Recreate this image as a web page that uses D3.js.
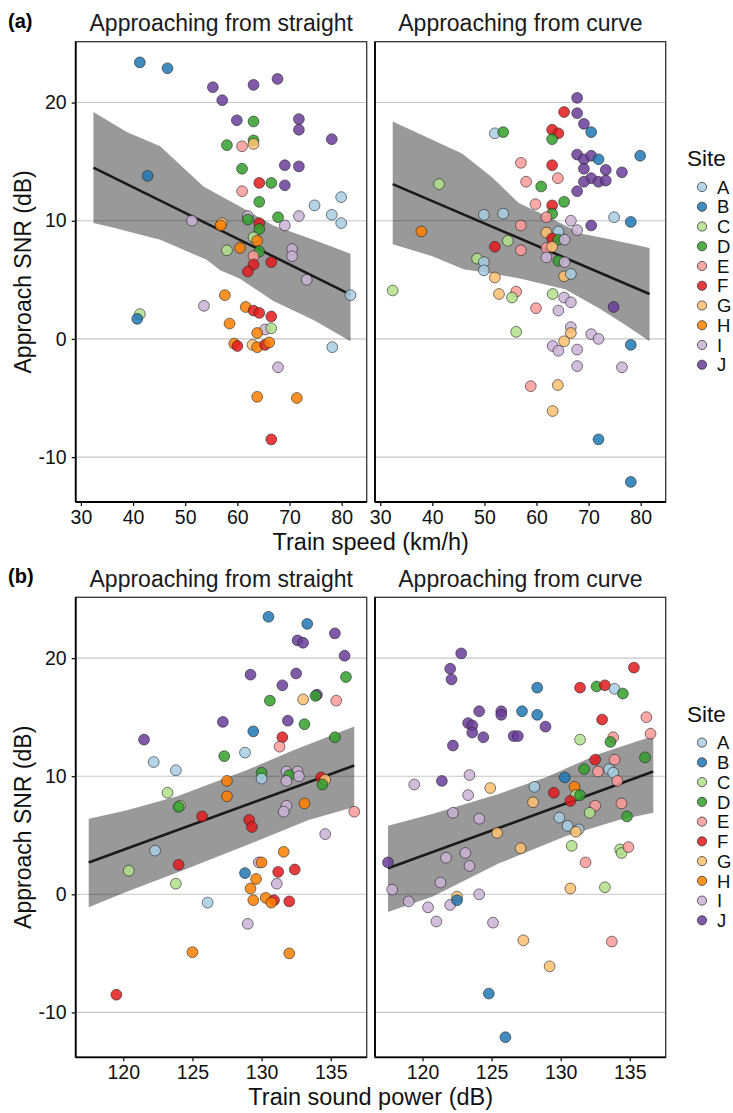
<!DOCTYPE html>
<html><head><meta charset="utf-8">
<script src="https://cdnjs.cloudflare.com/ajax/libs/d3/7.8.5/d3.min.js"></script>
<style>body{margin:0;background:#fff}svg{display:block;font-family:"Liberation Sans",Arial,sans-serif}</style>
</head><body>
<svg id="c" width="733" height="1113"></svg>
<script>
// ---------- data ----------
const sites = ["A","B","C","D","E","F","G","H","I","J"];
const siteColors = ["#A6CEE3","#1F78B4","#B2DF8A","#33A02C","#FB9A99","#E31A1C","#FDBF6F","#FF7F00","#CAB2D6","#6A3D9A"];
const facetTitles = ["Approaching from straight","Approaching from curve"];
const yTicks = [-10,0,10,20];
const speedTicks = [30,40,50,60,70,80];
const powerTicks = [120,125,130,135];

// [speed km/h, SNR dB, site]  — approaching from straight
const speedStraight = [
[41.3,23.4,"B"],[46.6,22.9,"B"],[55.3,21.3,"J"],[63.1,21.5,"J"],[67.7,22.0,"J"],[57.1,20.2,"J"],[59.9,18.5,"J"],
[63.1,18.4,"D"],[71.8,18.6,"J"],[71.8,17.7,"J"],[78.1,16.9,"J"],[63.1,16.8,"D"],[63.1,16.5,"G"],[58.0,16.4,"D"],
[60.9,16.3,"E"],[60.9,14.4,"D"],[69.1,14.7,"J"],[71.8,14.6,"J"],[42.8,13.8,"B"],[64.2,13.2,"F"],[66.5,13.2,"D"],
[69.1,13.0,"J"],[60.9,12.5,"E"],[64.2,11.6,"D"],[79.9,12.0,"A"],[74.8,11.3,"A"],[78.1,10.5,"A"],[79.9,9.8,"A"],
[51.3,10.0,"I"],[62.0,10.4,"I"],[62.0,10.1,"D"],[67.8,10.3,"D"],[71.8,10.4,"I"],[64.2,9.8,"F"],[69.1,9.6,"I"],
[64.2,9.3,"D"],[57.0,9.8,"G"],[56.8,9.6,"H"],[63.1,8.6,"C"],[63.8,8.3,"H"],[58.0,7.5,"C"],[60.5,7.7,"H"],
[64.2,7.4,"D"],[70.5,7.6,"I"],[70.5,7.0,"I"],[63.1,7.0,"E"],[66.5,6.5,"F"],[63.1,6.3,"F"],[62.0,5.7,"F"],
[73.3,5.0,"I"],[81.7,3.7,"A"],[57.6,3.7,"H"],[53.6,2.8,"I"],[41.3,2.1,"C"],[40.8,1.7,"B"],[61.6,2.7,"H"],
[63.1,2.4,"F"],[64.2,2.2,"F"],[66.5,1.9,"F"],[58.5,1.3,"H"],[65.3,0.8,"I"],[66.5,0.9,"C"],[63.8,0.5,"H"],
[59.4,-0.4,"H"],[60.0,-0.6,"F"],[62.9,-0.5,"G"],[63.8,-0.7,"H"],[65.3,-0.5,"F"],[66.1,-0.3,"H"],[78.2,-0.7,"A"],
[67.8,-2.4,"I"],[63.8,-4.9,"H"],[71.4,-5.0,"H"],[66.5,-8.5,"F"]
];
// approaching from curve
const speedCurve = [
[67.8,20.4,"J"],[65.3,19.2,"F"],[67.8,19.1,"J"],[69.1,18.2,"J"],[70.5,17.5,"B"],[52.0,17.4,"A"],[53.6,17.5,"D"],
[63.0,17.7,"F"],[64.2,17.4,"F"],[63.0,16.9,"D"],[79.9,15.5,"B"],[67.8,15.6,"J"],[69.1,15.2,"J"],[70.5,15.5,"J"],
[71.9,15.2,"B"],[57.0,14.9,"E"],[63.0,14.7,"F"],[69.1,14.4,"J"],[73.3,14.3,"J"],[76.4,14.1,"J"],[58.0,13.3,"E"],
[64.1,13.6,"E"],[70.5,13.6,"J"],[69.1,13.3,"J"],[71.9,13.3,"J"],[73.3,13.4,"J"],[60.9,12.9,"D"],[41.3,13.1,"C"],
[67.8,12.5,"J"],[59.8,11.4,"E"],[63.0,11.3,"F"],[65.3,11.6,"D"],[63.0,10.6,"D"],[61.9,10.3,"E"],[49.9,10.5,"A"],
[53.6,10.6,"A"],[74.9,10.3,"A"],[78.1,9.9,"B"],[70.5,9.6,"J"],[66.6,10.0,"I"],[67.8,9.2,"I"],[37.9,9.1,"H"],
[57.0,9.6,"E"],[61.9,9.0,"G"],[64.2,9.1,"A"],[63.0,8.5,"F"],[64.2,8.4,"D"],[65.4,8.4,"I"],[54.5,8.3,"C"],
[52.0,7.8,"F"],[57.0,7.5,"E"],[61.9,7.7,"E"],[63.0,7.8,"G"],[61.9,6.9,"I"],[48.6,6.8,"C"],[49.9,6.5,"A"],
[64.2,6.6,"D"],[65.4,6.5,"I"],[49.9,5.8,"A"],[52.0,5.2,"G"],[65.3,5.3,"G"],[66.6,5.5,"A"],[32.4,4.1,"C"],
[52.8,3.8,"G"],[56.1,4.0,"E"],[55.3,3.5,"C"],[63.1,3.8,"C"],[65.3,3.5,"I"],[66.6,3.1,"I"],[59.9,2.6,"E"],
[64.2,2.4,"I"],[74.8,2.7,"J"],[56.1,0.6,"C"],[66.6,1.0,"I"],[66.6,0.5,"G"],[70.5,0.4,"I"],[71.9,0.0,"I"],
[65.3,-0.2,"G"],[78.1,-0.5,"B"],[63.1,-0.6,"I"],[64.2,-1.0,"I"],[67.8,-0.9,"I"],[67.8,-2.3,"I"],[76.4,-2.4,"I"],
[58.9,-4.0,"E"],[64.1,-3.9,"G"],[63.1,-6.1,"G"],[71.9,-8.5,"B"],[78.1,-12.1,"B"]
];
// [train sound power dB, SNR dB, site]
const powerStraight = [
[130.5,23.5,"B"],[133.3,22.9,"B"],[135.3,22.1,"J"],[132.6,21.5,"J"],[133.0,21.3,"J"],[136.0,20.2,"J"],[129.2,18.6,"J"],
[132.5,18.7,"J"],[136.1,18.4,"D"],[131.5,17.7,"J"],[130.6,16.4,"D"],[133.0,16.5,"G"],[134.0,16.9,"J"],[133.9,16.8,"D"],
[135.4,16.4,"E"],[127.2,14.6,"J"],[131.9,14.7,"J"],[133.1,14.4,"D"],[129.4,13.8,"B"],[131.5,13.3,"F"],[135.3,13.3,"D"],
[131.3,12.5,"E"],[121.5,13.1,"J"],[122.2,11.2,"A"],[128.8,12.0,"A"],[127.3,11.7,"D"],[123.8,10.5,"A"],[130.0,10.3,"D"],
[130.0,9.8,"A"],[131.8,10.4,"I"],[132.6,10.4,"I"],[132.0,10.1,"D"],[132.7,10.0,"I"],[131.8,9.6,"I"],[134.3,9.9,"F"],
[134.6,9.7,"G"],[134.4,9.3,"D"],[127.5,9.6,"H"],[127.5,8.3,"H"],[123.2,8.6,"C"],[124.1,7.5,"C"],[124.0,7.4,"D"],
[133.1,7.7,"H"],[131.8,7.5,"I"],[131.6,7.0,"I"],[136.7,7.0,"E"],[125.7,6.6,"F"],[129.1,6.3,"F"],[129.3,5.7,"F"],
[134.6,5.1,"I"],[122.3,3.7,"A"],[131.6,3.6,"H"],[120.4,2.0,"C"],[124.0,2.5,"F"],[129.8,2.7,"I"],[130.0,2.7,"H"],
[128.8,1.8,"B"],[131.2,1.9,"F"],[132.4,2.1,"F"],[129.6,1.3,"H"],[131.1,0.9,"I"],[123.8,0.9,"C"],[129.2,0.5,"H"],
[126.1,-0.7,"A"],[129.4,-0.5,"H"],[130.3,-0.3,"H"],[130.9,-0.5,"F"],[130.7,-0.7,"H"],[132.0,-0.6,"F"],[129.0,-2.5,"I"],
[125.0,-4.9,"H"],[132.0,-5.0,"H"],[119.5,-8.5,"F"]
];
const powerCurve = [
[122.8,20.4,"J"],[135.3,19.2,"F"],[122.0,19.1,"J"],[122.1,18.2,"J"],[128.3,17.5,"B"],[131.4,17.5,"F"],[132.6,17.6,"D"],
[133.2,17.7,"F"],[133.9,17.4,"A"],[134.5,17.0,"D"],[124.1,15.5,"J"],[125.7,15.5,"J"],[125.7,15.2,"J"],[127.2,15.5,"B"],
[128.3,15.2,"B"],[133.0,14.8,"F"],[136.2,15.0,"E"],[123.3,14.5,"J"],[123.6,14.3,"J"],[128.9,14.2,"J"],[123.6,13.7,"J"],
[124.4,13.3,"J"],[126.6,13.4,"J"],[126.9,13.4,"J"],[136.5,13.6,"E"],[133.8,13.3,"E"],[131.4,13.1,"C"],[133.6,12.9,"D"],
[122.2,12.6,"J"],[136.1,11.6,"D"],[132.5,11.4,"F"],[133.9,11.4,"E"],[131.7,10.6,"D"],[132.7,10.4,"E"],[133.5,10.6,"A"],
[133.8,10.3,"A"],[130.3,9.9,"B"],[134.1,9.6,"E"],[119.4,9.3,"I"],[121.4,9.6,"J"],[123.4,10.1,"I"],[124.9,9.0,"G"],
[123.3,8.4,"I"],[128.1,9.1,"A"],[131.0,9.1,"H"],[129.5,8.6,"F"],[131.1,8.4,"C"],[131.4,8.4,"D"],[130.7,7.9,"F"],
[128.0,7.8,"G"],[132.5,7.5,"E"],[134.4,7.7,"E"],[132.1,6.9,"C"],[134.8,6.6,"D"],[122.2,6.9,"I"],[124.1,6.4,"I"],
[129.9,6.5,"A"],[130.5,5.8,"A"],[131.3,5.5,"A"],[131.1,5.3,"G"],[125.4,5.2,"G"],[127.1,3.9,"G"],[121.7,3.1,"I"],
[123.1,3.5,"I"],[123.4,2.4,"I"],[117.5,2.7,"J"],[130.8,4.1,"C"],[131.8,2.7,"E"],[134.3,3.8,"C"],[134.4,3.5,"C"],
[134.9,4.0,"E"],[117.8,0.4,"I"],[121.3,1.0,"I"],[130.7,0.5,"G"],[133.2,0.6,"C"],[119.0,-0.6,"I"],[120.4,-1.1,"I"],
[122.0,-0.9,"I"],[122.5,-0.2,"G"],[122.5,-0.5,"B"],[124.1,0.0,"I"],[121.0,-2.3,"I"],[125.1,-2.4,"I"],[127.3,-3.9,"G"],
[133.7,-4.0,"E"],[129.2,-6.1,"G"],[124.8,-8.4,"B"],[126.0,-12.1,"B"]
];

// fitted lines [x, SNR] at the ends
const fitSpeedStraight = [[32.4,14.5],[81.7,3.75]];
const fitSpeedCurve    = [[32.4,13.1],[81.7,3.8]];
const fitPowerStraight = [[117.5,2.7],[136.7,10.9]];
const fitPowerCurve    = [[117.5,2.2],[136.7,10.4]];

// confidence band edges [x, SNR]
const bandSpeedStraightHi = [[32.4,19.2],[38.8,17.5],[45.2,16.3],[53.5,12.9],[60.5,11.2],[66.9,9.6],[74.6,8.4],[81.7,7.2]];
const bandSpeedStraightLo = [[32.4,9.8],[36.3,9.4],[45.2,8.4],[54.1,6.7],[56.7,5.8],[60.5,5.1],[66.9,3.2],[74.6,1.6],[81.7,-0.2]];
const bandSpeedCurveHi = [[32.4,18.4],[45.7,15.7],[51.4,13.7],[56.6,11.5],[61.0,10.6],[68.7,8.9],[74.5,8.4],[81.7,7.7]];
const bandSpeedCurveLo = [[32.4,8.0],[40.0,7.0],[46.0,5.9],[52.0,5.5],[57.0,5.1],[65.5,4.2],[72.0,2.6],[77.0,1.2],[81.7,-0.2]];
const bandPowerStraightHi = [[117.5,6.4],[120.2,7.1],[123.9,8.3],[128.9,10.5],[132.3,12.2],[136.7,14.2]];
const bandPowerStraightLo = [[117.5,-1.1],[120.2,0.2],[124.0,1.9],[129.0,4.2],[133.4,6.3],[136.7,7.4]];
const bandPowerCurveHi = [[117.5,5.8],[120.7,6.8],[125.5,8.5],[128.9,9.9],[132.8,11.9],[136.7,13.4]];
const bandPowerCurveLo = [[117.5,-1.5],[120.7,-0.2],[125.5,2.6],[130.3,4.9],[134.2,6.3],[136.7,6.9]];

// ---------- drawing ----------
const svg = d3.select("#c");
const font = '"Liberation Sans",Arial,sans-serif';
const color = d3.scaleOrdinal().domain(sites).range(siteColors);
const facetX = [[75.7,366.7],[375,665.7]];

const panels = [
  {label:"(a)", top:41.7, bottom:502, xDomain:[29.0,84.8], xTicks:speedTicks, xTitle:"Train speed (km/h)",
   data:[speedStraight,speedCurve], fits:[fitSpeedStraight,fitSpeedCurve],
   bands:[[bandSpeedStraightHi,bandSpeedStraightLo],[bandSpeedCurveHi,bandSpeedCurveLo]]},
  {label:"(b)", top:597.3, bottom:1057.3, xDomain:[116.56,137.6], xTicks:powerTicks, xTitle:"Train sound power (dB)",
   data:[powerStraight,powerCurve], fits:[fitPowerStraight,fitPowerCurve],
   bands:[[bandPowerStraightHi,bandPowerStraightLo],[bandPowerCurveHi,bandPowerCurveLo]]}
];

panels.forEach((p,pi)=>{
  const y = d3.scaleLinear().domain([-13.8,25.15]).range([p.bottom,p.top]);
  const g = svg.append("g");
  // panel label
  g.append("text").attr("x",8).attr("y",p.top-14).attr("font-family",font).attr("font-weight","bold")
    .attr("font-size",20).text(p.label);

  facetX.forEach((fx,fi)=>{
    const x = d3.scaleLinear().domain(p.xDomain).range(fx);
    const f = g.append("g");
    const cid = "clip"+pi+fi;
    f.append("clipPath").attr("id",cid).append("rect")
      .attr("x",fx[0]).attr("y",p.top).attr("width",fx[1]-fx[0]).attr("height",p.bottom-p.top);
    // strip title
    f.append("text").attr("x",(fx[0]+fx[1])/2).attr("y",p.top-10.5).attr("text-anchor","middle")
      .attr("font-family",font).attr("font-size",23).attr("fill","#1a1a1a").text(facetTitles[fi]);
    // grid
    f.selectAll("line.grid").data(yTicks).join("line").attr("class","grid")
      .attr("x1",fx[0]).attr("x2",fx[1]).attr("y1",d=>y(d)).attr("y2",d=>y(d))
      .attr("stroke","#c6c6c6").attr("stroke-width",1.1);
    const plot = f.append("g").attr("clip-path",`url(#${cid})`);
    // band
    const [hi,lo] = p.bands[fi];
    const poly = hi.concat(lo.slice().reverse());
    plot.append("path").datum(poly)
      .attr("d", d3.line().x(d=>x(d[0])).y(d=>y(d[1])).curve(d3.curveLinearClosed))
      .attr("fill","#000").attr("fill-opacity",0.4);
    // fit line
    plot.append("path").datum(p.fits[fi])
      .attr("d", d3.line().x(d=>x(d[0])).y(d=>y(d[1])))
      .attr("stroke","#1a1a1a").attr("stroke-width",2.6).attr("fill","none");
    // points
    plot.selectAll("circle").data(p.data[fi]).join("circle")
      .attr("cx",d=>x(d[0])).attr("cy",d=>y(d[1])).attr("r",5.4)
      .attr("fill",d=>color(d[2])).attr("fill-opacity",0.85)
      .attr("stroke","#222").attr("stroke-width",0.7).attr("stroke-opacity",0.85);
    // border
    f.append("rect").attr("x",fx[0]).attr("y",p.top).attr("width",fx[1]-fx[0]).attr("height",p.bottom-p.top)
      .attr("fill","none").attr("stroke","#333").attr("stroke-width",1.3);
    // axis lines
    f.append("line").attr("x1",fx[0]).attr("x2",fx[1]).attr("y1",p.bottom).attr("y2",p.bottom)
      .attr("stroke","#000").attr("stroke-width",1.8);
    f.append("line").attr("x1",fx[0]).attr("x2",fx[0]).attr("y1",p.top).attr("y2",p.bottom)
      .attr("stroke","#000").attr("stroke-width",1.8);
    // x axis
    const xa = f.append("g").attr("transform",`translate(0,${p.bottom})`)
      .call(d3.axisBottom(x).tickValues(p.xTicks).tickSize(4).tickPadding(4).tickFormat(d3.format("d")));
    xa.select(".domain").remove();
    xa.selectAll("line").attr("stroke","#000").attr("stroke-width",1.2);
    xa.selectAll("text").attr("font-family",font).attr("font-size",19.5).attr("fill","#111");
    if(fi===0){
      const ya = f.append("g").attr("transform",`translate(${fx[0]},0)`)
        .call(d3.axisLeft(y).tickValues(yTicks).tickSize(4).tickPadding(5).tickFormat(d=>String(d)));
      ya.select(".domain").remove();
      ya.selectAll("line").attr("stroke","#000").attr("stroke-width",1.2);
      ya.selectAll("text").attr("font-family",font).attr("font-size",19.5).attr("fill","#111");
    }
  });
  // axis titles
  g.append("text").attr("x",(facetX[0][0]+facetX[1][1])/2).attr("y",p.bottom+48).attr("text-anchor","middle")
    .attr("font-family",font).attr("font-size",23.5).attr("fill","#111").text(p.xTitle);
  g.append("text").attr("transform",`translate(31,${(p.top+p.bottom)/2}) rotate(-90)`).attr("text-anchor","middle")
    .attr("font-family",font).attr("font-size",23).attr("fill","#111").text("Approach SNR (dB)");
  // legend
  const ly0 = p.top + 145.3;
  const lg = g.append("g");
  lg.append("text").attr("x",687).attr("y",p.top+124.5).attr("font-family",font).attr("font-size",22.5)
    .attr("fill","#111").text("Site");
  const ls = d3.scalePoint().domain(sites).range([ly0, ly0+9*19.75]);
  sites.forEach(s=>{
    lg.append("circle").attr("cx",702).attr("cy",ls(s)).attr("r",4.6).attr("fill",color(s)).attr("fill-opacity",0.85)
      .attr("stroke","#222").attr("stroke-width",0.7);
    lg.append("text").attr("x",717).attr("y",ls(s)).attr("dy","0.36em").attr("font-family",font)
      .attr("font-size",18.5).attr("fill","#111").text(s);
  });
});
</script>
</body></html>
